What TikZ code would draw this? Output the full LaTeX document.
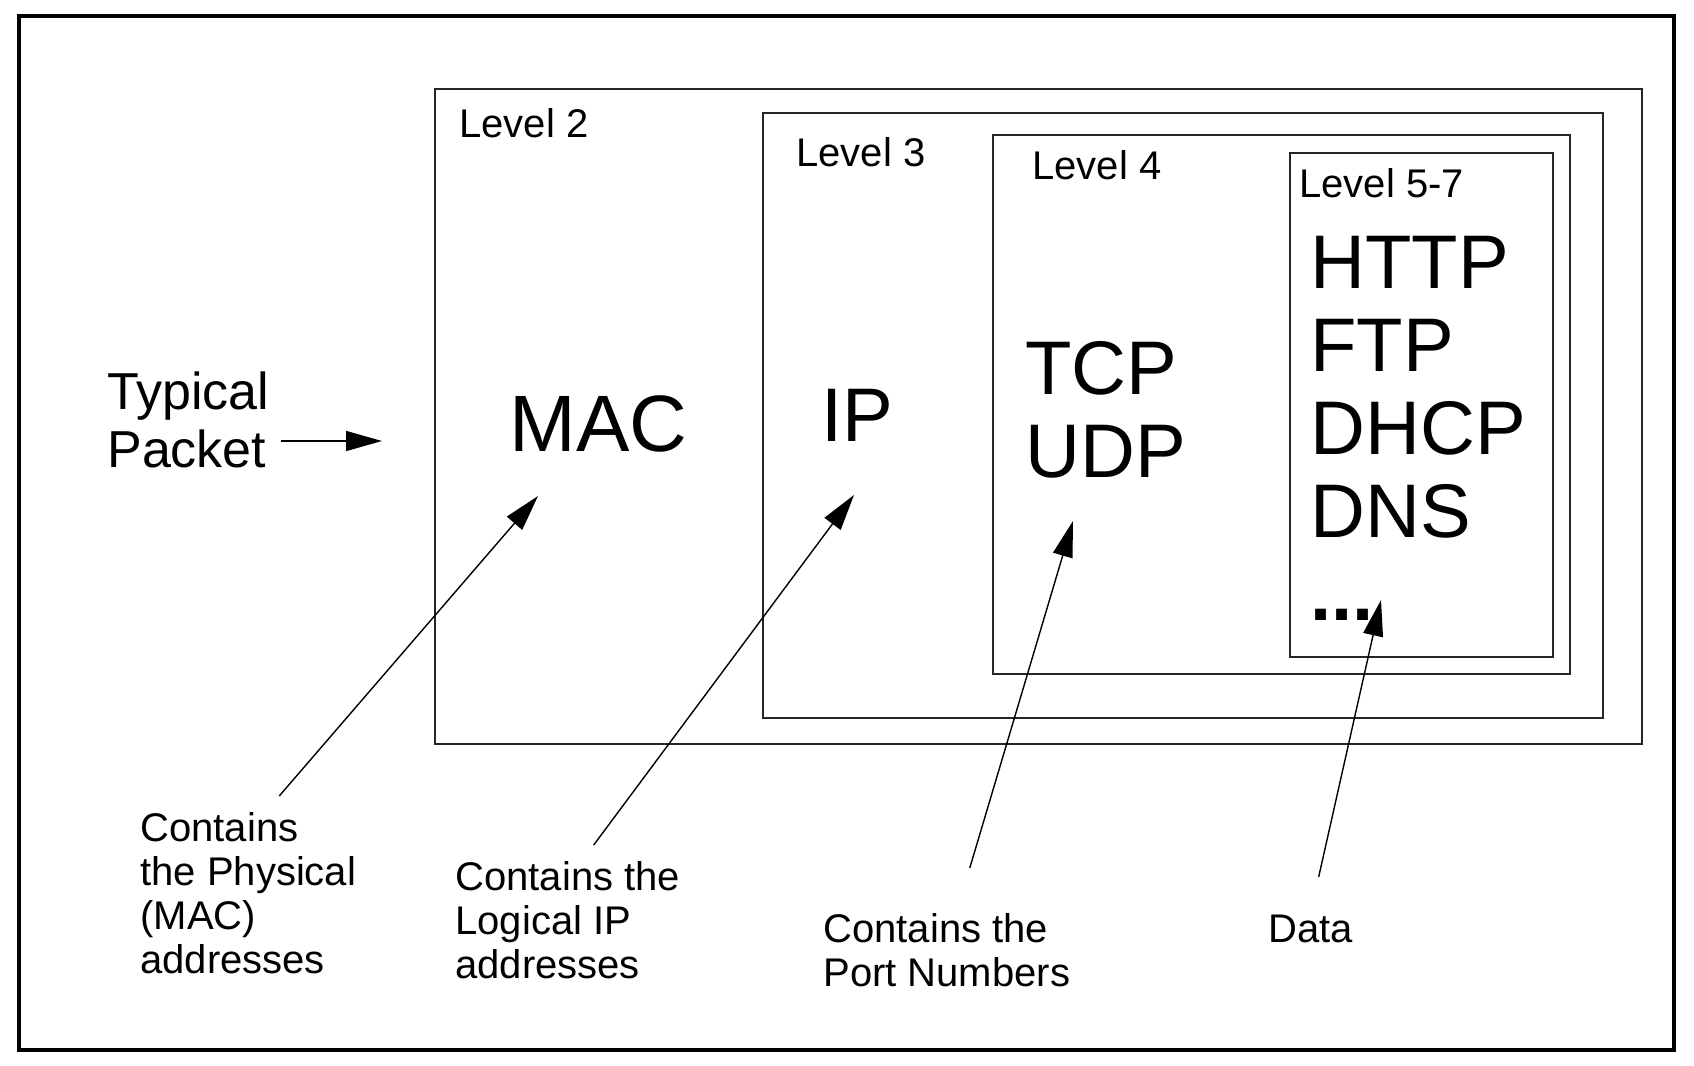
\documentclass[tikz,border=0pt]{standalone}
\usepackage{fontspec}
\setmainfont{Liberation Sans}
\usetikzlibrary{arrows.meta}

\tikzset{
  layerbox/.style={draw=black!85, line width=0.9pt},
  levellabel/.style={anchor=north west, inner sep=0pt, font=\fontsize{20}{22}\selectfont},
  protolabel/.style={anchor=north west, inner sep=0pt, align=left, font=\fontsize{38}{41.5}\selectfont},
  notelabel/.style={anchor=north west, inner sep=0pt, align=left, font=\fontsize{20}{22}\selectfont},
  packetlabel/.style={anchor=north west, inner sep=0pt, font=\fontsize{26}{28.5}\selectfont},
  ptr/.style={-{Triangle[length=18pt,width=10pt]}, line width=0.7pt},
}

\begin{document}
\begin{tikzpicture}[x=0.5pt,y=-0.5pt]
    \useasboundingbox (0,0) rectangle (1694,1066);
    % Outer frame
    \draw[line width=1.8pt] (19,16) rectangle (1674,1050);
    
    % Nested layers
    \draw[layerbox] (435,89) rectangle (1642,744);
    \draw[layerbox] (763,113) rectangle (1603,718);
    \draw[layerbox] (993,135) rectangle (1570,674);
    \draw[layerbox] (1290,153) rectangle (1553,657);
    
    \node[levellabel] (lvlTwo) at (459,108) {Level 2};
    \node[levellabel] (lvlThree) at (796,137) {Level 3};
    \node[levellabel] (lvlFour) at (1032,150) {Level 4};
    \node[levellabel] (lvlApp) at (1299,168) {Level 5-7};
    
    % Protocols
    \node[protolabel, font=\fontsize{40}{44}\selectfont] (mac) at (509,395) {MAC};
    \node[protolabel] (ip) at (821,389) {IP};
    \node[protolabel] (tcp) at (1025,341) {TCP\\UDP};
    \node[protolabel] (app) at (1310,236) {HTTP\\FTP\\DHCP\\DNS\\\textbf{...}};
    
    % Packet
    \node[packetlabel] (typ) at (107,371) {Typical};
    \node[packetlabel] (pkt) at (107,429) {Packet};
    \coordinate (pktTip) at (382,441);
    \draw[ptr, shorten <=7pt] (pktTip -| pkt.east) -- (pktTip);
    
    % Notes
    \node[notelabel] (phys) at (140,812) {Contains\\the Physical\\(MAC)\\addresses};
    \node[notelabel] (logi) at (455,861) {Contains the\\Logical IP\\addresses};
    \node[notelabel] (port) at (823,913) {Contains the\\Port Numbers};
    \node[notelabel] (data) at (1268,915) {Data};
    
    \coordinate (macTip) at (538,496);
    \coordinate (ipTip) at (854,495);
    \coordinate (tcpTip) at (1073,521);
    \coordinate (dotsTip) at (1381,600);
    
    \draw[ptr] ([xshift=15.5pt,yshift=8pt]phys.north) -- (macTip);
    \draw[ptr] ([xshift=13pt,yshift=8pt]logi.north) -- (ipTip);
    \draw[ptr] ([xshift=11.5pt,yshift=22.5pt]port.north) -- (tcpTip);
    \draw[ptr] ([xshift=4pt,yshift=19pt]data.north) -- (dotsTip);
\end{tikzpicture}
\end{document}
